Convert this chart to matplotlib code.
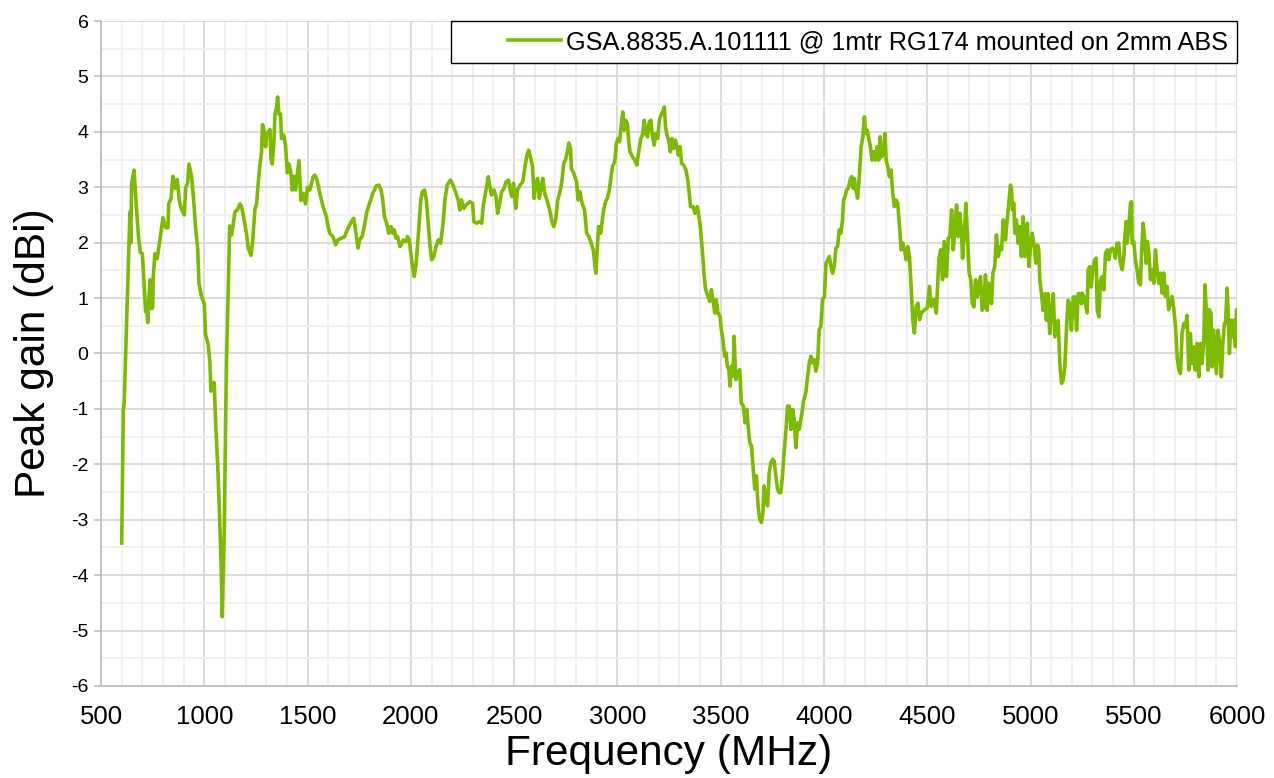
import matplotlib
matplotlib.use('Agg')
import matplotlib.pyplot as plt
from matplotlib.ticker import MultipleLocator
from matplotlib.legend_handler import HandlerLine2D

plt.rcParams['font.family'] = ['Liberation Sans', 'DejaVu Sans']
plt.rcParams['axes.unicode_minus'] = False

# values (MHz, dBi)
freq_mhz = [
    600, 608, 612, 624, 635, 640, 644, 648, 660, 670, 682, 690, 700, 708, 716, 721, 726, 731, 737, 745,
    750, 753, 761, 772, 800, 813, 824, 828, 839, 848, 860, 869, 879, 890, 903, 910, 919, 926, 939, 947,
    958, 968, 974, 987, 1000, 1006, 1019, 1027, 1032, 1040, 1048, 1055, 1065, 1073, 1081, 1087, 1097, 1103, 1108, 1116,
    1123, 1132, 1140, 1148, 1161, 1173, 1181, 1194, 1205, 1213, 1226, 1234, 1245, 1253, 1261, 1269, 1277, 1282, 1290, 1297,
    1302, 1310, 1318, 1323, 1329, 1337, 1342, 1350, 1355, 1361, 1369, 1374, 1385, 1393, 1402, 1410, 1419, 1426, 1434, 1442,
    1458, 1468, 1479, 1490, 1500,
    1511, 1527, 1535, 1546, 1559, 1575, 1591, 1599, 1607, 1623, 1636, 1647, 1664, 1680, 1688, 1700, 1712, 1723, 1732, 1744,
    1752, 1764, 1776, 1787, 1800, 1816, 1832, 1845, 1856, 1864, 1872, 1883, 1893, 1904, 1912, 1920, 1928, 1936, 1947, 1957,
    1963, 1976, 1984, 1992, 2000, 2008, 2016, 2024, 2032, 2040, 2048, 2056, 2066, 2075, 2085, 2093, 2101, 2111, 2120, 2133,
    2144, 2156, 2165, 2176, 2192, 2204, 2216, 2229, 2237, 2245, 2257, 2268, 2277,
    2286, 2299, 2305, 2318, 2331, 2343, 2351, 2364, 2375, 2383, 2391, 2403, 2412, 2420, 2428, 2440, 2451, 2461, 2472, 2481,
    2489, 2497, 2508, 2516, 2529, 2542, 2554, 2562, 2570, 2581, 2589, 2597, 2605, 2614, 2622, 2631, 2639, 2648, 2659, 2672,
    2683, 2692, 2702, 2711, 2724, 2732, 2740, 2748, 2756, 2765, 2773, 2777, 2789, 2802, 2810, 2818, 2829, 2841, 2851, 2862,
    2873, 2883, 2890, 2896, 2902, 2909, 2919, 2927, 2935, 2943, 2951, 2961, 2967, 2976, 2987, 2995, 3003, 3011, 3019, 3026,
    3032, 3040, 3048, 3055, 3061, 3073, 3084, 3094, 3102, 3113, 3121, 3130, 3138, 3146, 3154, 3162, 3170, 3178, 3186, 3195,
    3203, 3211, 3219, 3227, 3233, 3240, 3248, 3256, 3264, 3273, 3281, 3289, 3295, 3303, 3311, 3321, 3332, 3341,
    3354, 3367, 3375, 3387, 3400, 3411, 3419, 3427, 3439, 3447, 3455, 3465, 3471, 3479, 3487, 3497, 3503, 3511, 3519, 3527,
    3532, 3540, 3545, 3552, 3560, 3565, 3573, 3581, 3592, 3600, 3610, 3618, 3626, 3633, 3641, 3649, 3659, 3665, 3673, 3681,
    3689, 3697, 3705, 3710, 3718, 3727, 3735, 3743, 3751, 3759, 3767, 3775, 3783, 3791, 3799, 3807, 3815, 3824, 3832, 3840,
    3848, 3856, 3864, 3872, 3880, 3888, 3896, 3901, 3912, 3921, 3929, 3937, 3945, 3953, 3961, 3969, 3977, 3985, 3993, 4002,
    4010, 4018, 4026, 4034, 4042, 4050, 4058, 4066, 4074, 4082, 4090, 4095, 4102, 4110, 4118, 4126, 4134, 4142, 4147, 4155,
    4163, 4171, 4180, 4188, 4196, 4202, 4209, 4217, 4225, 4233, 4241, 4249, 4257, 4265, 4272, 4280, 4288, 4296, 4301, 4309,
    4317, 4325, 4333, 4341, 4349, 4357, 4366, 4374, 4382, 4390, 4398, 4406, 4414, 4422, 4430, 4438, 4446, 4455, 4463, 4471,
    4487, 4500, 4511, 4519, 4532, 4544,
    4556, 4565, 4574, 4582, 4593, 4602, 4610, 4618, 4626, 4634, 4642, 4650, 4658, 4666, 4671, 4679, 4687, 4695, 4703, 4711,
    4718, 4726, 4734, 4742, 4750, 4758, 4766, 4774, 4782, 4790, 4798, 4806, 4811, 4818, 4827, 4835, 4844, 4852, 4860, 4868,
    4873, 4879, 4887, 4895, 4903, 4908, 4913, 4919, 4924, 4932, 4940, 4948, 4956, 4964, 4973, 4981, 4985, 4992, 5000, 5008,
    5018, 5026, 5034, 5040, 5045, 5053, 5061, 5069, 5077, 5085, 5093, 5102, 5110, 5118, 5126, 5134, 5142, 5150, 5158, 5166,
    5174, 5182, 5190, 5198, 5207, 5215, 5223, 5231, 5239, 5247,
    5250, 5258, 5266, 5274, 5279, 5287, 5294, 5302, 5310, 5318, 5323, 5331, 5339, 5347, 5355, 5363, 5371, 5379, 5387, 5395,
    5403, 5411, 5419, 5427, 5435, 5444, 5452, 5457, 5463, 5468, 5476, 5484, 5489, 5492, 5500, 5508, 5516, 5524, 5532, 5537,
    5545, 5553, 5560, 5566, 5573, 5581, 5589, 5597, 5605, 5613, 5621, 5629, 5637, 5645, 5653, 5661, 5669, 5677, 5686, 5694,
    5702, 5710, 5718, 5726, 5734, 5742, 5750, 5758, 5766, 5774, 5782, 5790, 5798, 5806, 5815, 5823, 5831, 5839, 5845, 5851,
    5859, 5866, 5874, 5879, 5887, 5895, 5900, 5908, 5916, 5924, 5931, 5939, 5944, 5952, 5957, 5963, 5971, 5979, 5986, 5992,
    5997, 6000,
]
gain_dbi = [
    -3.42, -1.02, -0.9, 0.59, 2.0, 2.55, 2.0, 3.07, 3.31, 2.7, 2.08, 1.83, 1.8, 1.27, 0.75, 0.84, 0.56, 0.96, 1.33, 0.81,
    0.84, 1.4, 1.8, 1.71, 2.45, 2.27, 2.27, 2.7, 2.8, 3.2, 2.98, 3.14, 2.76, 2.6, 2.5, 3.0, 3.07, 3.42, 3.17, 2.83,
    2.27, 1.9, 1.27, 1.02, 0.9, 0.34, 0.16, -0.16, -0.68, -0.53, -0.53, -1.27, -2.02, -2.83, -3.76, -4.75, -3.14, -1.27, -0.03, 1.21,
    2.3, 2.14, 2.33, 2.55, 2.6, 2.7, 2.64, 2.39, 2.14, 1.9, 1.77, 2.02, 2.6, 2.7, 3.07, 3.39, 3.63, 4.13, 4.0, 3.73,
    3.94, 4.0, 4.04, 3.51, 3.42, 3.82, 4.32, 4.44, 4.63, 4.32, 4.32, 3.88, 3.94, 3.76, 3.26, 3.42, 3.26, 2.95, 3.2, 2.95,
    3.48, 2.76, 2.89, 2.7, 3.0,
    2.95, 3.19, 3.22, 3.13, 2.89, 2.65, 2.47, 2.29, 2.17, 2.11, 1.96, 2.05, 2.08, 2.11, 2.2, 2.29, 2.38, 2.44, 2.23, 1.9,
    2.05, 2.11, 2.32, 2.56, 2.71, 2.89, 3.02, 3.04, 2.95, 2.77, 2.47, 2.35, 2.17, 2.29, 2.17, 2.23, 2.08, 2.11, 1.93, 1.99,
    2.05, 2.02, 2.11, 2.05, 1.81, 1.57, 1.39, 1.57, 1.93, 2.35, 2.77, 2.92, 2.95, 2.77, 2.29, 1.93, 1.69, 1.75, 1.9, 2.05,
    1.99, 2.35, 2.77, 3.04, 3.13, 3.04, 2.92, 2.77, 2.59, 2.77, 2.62, 2.68, 2.71,
    2.74, 2.71, 2.38, 2.35, 2.38, 2.35, 2.68, 2.95, 3.19, 3.01, 2.86, 2.95, 2.83, 2.53, 2.68, 2.92, 2.98, 3.1, 3.13, 2.95,
    2.83, 3.07, 2.62, 2.95, 3.04, 3.1, 3.4, 3.58, 3.67, 3.52, 3.37, 2.8, 3.07, 3.16, 2.8, 3.01, 3.16, 2.89, 2.77, 2.59,
    2.38, 2.29, 2.44, 2.77, 2.95, 3.13, 3.43, 3.49, 3.61, 3.8, 3.7, 3.34, 3.25, 3.1, 2.77, 2.92, 2.71, 2.59, 2.17, 2.11,
    1.99, 1.87, 1.63, 1.45, 1.87, 2.29, 2.17, 2.41, 2.62, 2.74, 2.8, 2.95, 3.13, 3.37, 3.46, 3.79, 3.88, 3.82, 4.15, 4.36,
    4.03, 4.21, 4.15, 3.82, 3.64, 3.55, 3.49, 3.4, 3.61, 3.88, 3.94, 4.21, 3.97, 3.91, 4.18, 4.21, 3.91, 3.76, 3.97, 3.88,
    4.21, 4.3, 4.36, 4.45, 4.09, 3.94, 3.85, 3.64, 3.88, 3.7, 3.85, 3.73, 3.58, 3.73, 3.43, 3.4, 3.31, 3.13,
    2.65, 2.65, 2.53, 2.65, 2.35, 1.87, 1.45, 1.15, 1.03, 0.94, 1.15, 0.91, 0.73, 0.97, 0.73, 0.67, 0.43, 0.25, -0.05, 0.01,
    -0.23, -0.29, -0.59, -0.23, -0.41, 0.31, -0.47, -0.35, -0.29, -0.89, -0.95, -1.25, -1.01, -1.31, -1.61, -1.67, -2.15, -2.45, -2.21, -2.75,
    -2.99, -3.05, -2.87, -2.39, -2.63, -2.75, -2.15, -1.97, -1.91, -1.94, -2.21, -2.45, -2.51, -2.51, -2.21, -1.79, -1.43, -0.95, -0.95, -1.37,
    -1.01, -1.19, -1.7, -1.25, -1.37, -1.19, -1.01, -0.86, -0.71, -0.41, -0.17, -0.05, -0.17, -0.11, -0.32, -0.17, 0.43, 0.49, 0.97, 1.03,
    1.63, 1.69, 1.75, 1.57, 1.45, 1.57, 1.9, 1.93, 2.23, 2.17, 2.41, 2.77, 2.83, 2.95, 2.98, 3.13, 3.19, 2.98, 3.16, 2.95,
    2.8, 3.19, 3.73, 3.91, 4.27, 3.97, 4.03, 3.88, 3.73, 3.49, 3.64, 3.49, 3.73, 3.49, 3.91, 3.55, 3.61, 3.97, 3.49, 3.37,
    3.19, 3.31, 2.89, 2.65, 2.77, 2.71, 2.29, 1.87, 1.99, 1.87, 1.69, 1.93, 1.75, 1.21, 0.61, 0.37, 0.85, 0.91, 0.61, 0.73,
    0.79, 0.82, 1.21, 0.85, 0.97, 0.73,
    1.69, 1.87, 1.33, 2.02, 1.39, 2.08, 2.11, 2.59, 1.87, 2.23, 2.68, 2.11, 2.53, 2.17, 1.72, 2.11, 2.71, 2.11, 1.45, 1.33,
    0.9, 0.84, 1.33, 1.02, 1.2, 1.39, 0.78, 0.84, 1.42, 0.78, 1.27, 1.14, 0.9, 1.45, 1.57, 2.14, 1.75, 1.93, 1.87, 2.41,
    2.23, 2.05, 2.41, 2.71, 3.04, 2.95, 2.59, 2.71, 2.17, 2.41, 1.99, 2.29, 1.75, 2.47, 1.75, 2.11, 2.35, 1.57, 1.93, 2.17,
    1.93, 1.63, 1.96, 1.87, 1.33, 1.08, 0.78, 1.08, 0.6, 1.08, 0.36, 0.78, 1.08, 0.3, 0.54, 0.6, -0.18, -0.54, -0.48, -0.24,
    0.42, 0.96, 0.9, 0.42, 1.02, 1.02, 0.42, 1.08, 1.08, 0.9,
    1.09, 1.03, 0.91, 0.73, 1.51, 1.57, 1.2, 1.51, 1.69, 1.72, 0.78, 0.66, 1.33, 1.39, 1.15, 1.81, 1.87, 1.69, 1.87, 1.9,
    1.87, 1.72, 1.99, 1.99, 1.63, 1.51, 1.75, 2.11, 2.38, 1.99, 2.29, 2.71, 2.74, 1.99, 2.02, 1.69, 1.51, 1.27, 1.24, 1.75,
    2.35, 2.05, 1.63, 2.02, 1.81, 1.33, 1.51, 1.27, 1.87, 1.51, 1.27, 1.45, 1.09, 1.45, 1.03, 1.21, 0.79, 0.91, 1.03, 0.79,
    0.49, -0.06, -0.3, -0.36, 0.36, 0.54, 0.48, 0.69, -0.3, 0.36, -0.18, 0.12, -0.3, 0.18, -0.42, 0.18, -0.18, 0.24, 1.24, 0.79,
    -0.3, 0.79, 0.72, -0.24, 0.42, -0.06, -0.36, 0.42, 0.18, -0.42, 0.18, 0.54, 0.54, 1.18, 0.73, 0.0, 0.6, 0.3, 0.6, 0.12,
    0.79, 0.79,
]

x_ticks = list(range(500, 6001, 500))
y_ticks = list(range(-6, 7))
series_name = 'GSA.8835.A.101111 @ 1mtr RG174 mounted on 2mm ABS'


class RightLineHandler(HandlerLine2D):
    # legend line sits at the right end of a wide handle box (extra room on the left)
    def get_xdata(self, legend, xdescent, ydescent, width, height, fontsize):
        x1 = -xdescent + width
        return [x1 - 2.12 * fontsize, x1], [x1 - 1.06 * fontsize]


fig = plt.figure(figsize=(12.74, 7.78), dpi=100)
ax = fig.add_axes([0.0793, 0.1183, 0.8917, 0.8547])

line, = ax.plot(freq_mhz, gain_dbi, color='#7CBB00', lw=2.6, label=series_name, zorder=3)

ax.set_xlim(500, 6000)
ax.set_ylim(-6, 6)
ax.set_xticks(x_ticks)
ax.set_yticks(y_ticks)
ax.xaxis.set_minor_locator(MultipleLocator(100))
ax.yaxis.set_minor_locator(MultipleLocator(0.5))

# excel-like grid: light minor, slightly darker major
ax.set_axisbelow(True)
ax.grid(which='major', color='#D9D9D9', lw=1.3)
ax.grid(which='minor', color='#F0F0F0', lw=1.3)

for side in ['top', 'right']:
    ax.spines[side].set_visible(False)
for side in ['left', 'bottom']:
    ax.spines[side].set_color('#BFBFBF')
    ax.spines[side].set_linewidth(1.3)

ax.tick_params(axis='x', which='both', length=0, labelsize=18.5, pad=14)
ax.tick_params(axis='y', which='major', length=5, width=1.2, color='#BFBFBF', labelsize=14, pad=4)
ax.tick_params(axis='y', which='minor', length=0)

ax.set_xlabel('Frequency (MHz)', fontsize=30.5, labelpad=3)
ax.set_ylabel('Peak gain (dBi)', fontsize=30.5, labelpad=12)

leg = ax.legend(loc='upper right', bbox_to_anchor=(1.0, 1.0), borderaxespad=0, fontsize=18.2,
                fancybox=False, edgecolor='black', framealpha=1, handlelength=4.0,
                handletextpad=0.2, borderpad=0.35,
                handler_map={line: RightLineHandler()})
leg.get_frame().set_linewidth(1.0)

fig.savefig('out.png', dpi=100)
